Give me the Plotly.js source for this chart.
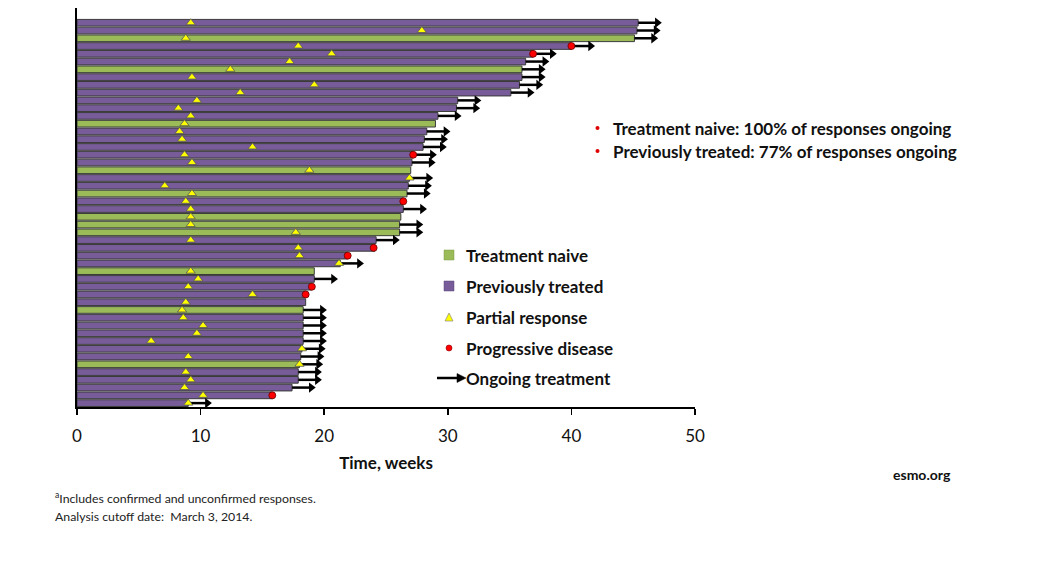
<!DOCTYPE html>
<html>
<head>
<meta charset="utf-8">
<script src="https://cdn.plot.ly/plotly-3.0.1.min.js"></script>
<style>
html,body{margin:0;padding:0;background:#fff;}
#chart{width:1056px;height:570px;}
</style>
</head>
<body>
<div id="chart"></div>
<script>
// One row per patient, top to bottom
const group = ['P','P','N','P','P','P','N','P','P','P',
               'P','P','P','N','P','P','P','P','P','N',
               'P','P','N','P','P','N','N','N','P','P',
               'P','P','N','P','P','P','P','N','P','P',
               'P','P','P','P','N','P','P','P','P','P'];
const duration = [45.4,45.3,45.1,40.0,36.9,36.3,36.0,36.0,35.8,35.1,
                  30.8,30.7,29.2,29.0,28.3,28.1,28.0,27.2,27.1,27.0,
                  26.9,26.8,26.7,26.4,26.4,26.2,26.1,26.1,24.2,24.1,
                  21.9,21.3,19.2,19.2,19.0,18.5,18.5,18.3,18.3,18.3,
                  18.3,18.3,18.2,18.1,18.0,17.9,17.9,17.4,15.8,9.0];
const partialResponse = [9.2,27.9,8.8,17.9,20.6,17.2,12.4,9.3,19.2,13.2,
                         9.7,8.2,9.2,8.7,8.3,8.5,14.2,8.7,9.3,18.8,
                         26.9,7.1,9.3,8.8,9.2,9.2,9.2,17.7,9.2,17.9,
                         18.0,21.2,9.2,9.8,9.0,14.2,8.8,8.5,8.6,10.2,
                         9.7,6.0,18.2,9.0,18.0,8.8,9.2,8.7,10.2,9.0];
const progression = [null,null,null,40.0,36.9,null,null,null,null,null,
                     null,null,null,null,null,null,null,27.2,null,null,
                     null,null,null,26.4,null,null,null,null,null,24.0,
                     21.9,null,null,null,19.0,18.5,null,null,null,null,
                     null,null,null,null,null,null,null,null,15.8,null];
const ongoing = [1,1,1,1,1,1,1,1,1,1,
                 1,1,1,0,1,1,1,1,1,0,
                 1,1,1,0,1,0,1,1,1,0,
                 0,1,0,1,0,0,0,1,1,1,
                 1,1,1,1,1,1,1,1,0,1];
const xTicks = [0,10,20,30,40,50];

const PURPLE = '#775C99', GREEN = '#9BBB59';
const rows = duration.map((d,i)=>i);

function barTrace(g, color, name){
  const idx = rows.filter(i=>group[i]===g);
  return {type:'bar', orientation:'h', name:name,
    x: idx.map(i=>duration[i]), y: idx, width:0.86,
    marker:{color:color, line:{color:'#3a3a3a', width:1}},
    hoverinfo:'x', showlegend:false};
}

const ARROW = 1.5;
const onIdx = rows.filter(i=>ongoing[i]);
const lx=[], ly=[];
onIdx.forEach(i=>{ lx.push(duration[i], duration[i]+ARROW, null); ly.push(i,i,null); });

const pdIdx = rows.filter(i=>progression[i]!==null);

const data = [
  barTrace('N', GREEN, 'Treatment naive'),
  barTrace('P', PURPLE, 'Previously treated'),
  {type:'scatter', mode:'lines', x:lx, y:ly, line:{color:'#000', width:2.5}, hoverinfo:'skip', showlegend:false},
  {type:'scatter', mode:'markers', x:onIdx.map(i=>duration[i]+ARROW+0.05), y:onIdx,
   marker:{symbol:'triangle-right', size:9, color:'#000'}, hoverinfo:'skip', showlegend:false},
  {type:'scatter', mode:'markers', name:'Partial response', x:partialResponse, y:rows,
   marker:{symbol:'triangle-up', size:8, color:'#FFFF00', line:{color:'#555', width:0.8}}, showlegend:false},
  {type:'scatter', mode:'markers', name:'Progressive disease', x:pdIdx.map(i=>progression[i]), y:pdIdx,
   marker:{symbol:'circle', size:7, color:'#FF0000', line:{color:'#600', width:0.8}}, showlegend:false}
];

// pixel helpers for layout decoration (plot area: x 77..695, y 8..407)
const L=77, R=695, T=8, B=407;
const px = v => (v-L)/(R-L);
const py = v => (B-v)/(B-T);

const FONT = 'Lato, "Open Sans", sans-serif';
const TXT = '#111';
const ann = [];
const shapes = [];
function text(t, x, y, size, bold, color, anchor){
  ann.push({xref:'paper', yref:'paper', x:px(x), y:py(y), xanchor:anchor||'left', yanchor:'middle',
    showarrow:false, text: bold?('<b>'+t+'</b>'):t, font:{family:FONT, size:size, color:color||TXT}});
}

// Notes (red bullets drawn as small dots)
shapes.push({type:'circle', xref:'paper', yref:'paper', x0:px(595.5), x1:px(599.5), y0:py(126), y1:py(130), fillcolor:'#E00000', line:{width:0}});
shapes.push({type:'circle', xref:'paper', yref:'paper', x0:px(595.5), x1:px(599.5), y0:py(149), y1:py(153), fillcolor:'#E00000', line:{width:0}});
text('Treatment naive: 100% of responses ongoing', 611, 128, 17, true);
text('Previously treated: 77% of responses ongoing', 611, 151, 17, true);

// Legend
const legY = [255,286,317,348,378];
const legT = ['Treatment naive','Previously treated','Partial response','Progressive disease','Ongoing treatment'];
legT.forEach((t,k)=>text(t, 464, legY[k], 17, true));
shapes.push({type:'rect', xref:'paper', yref:'paper', x0:px(444), x1:px(454), y0:py(250), y1:py(260), fillcolor:GREEN, line:{color:'#7a9a40', width:0.5}});
shapes.push({type:'rect', xref:'paper', yref:'paper', x0:px(444), x1:px(454), y0:py(281), y1:py(291), fillcolor:PURPLE, line:{color:'#5a4478', width:0.5}});
shapes.push({type:'path', xref:'paper', yref:'paper',
  path:`M ${px(445)} ${py(321)} L ${px(453)} ${py(321)} L ${px(449)} ${py(313)} Z`, fillcolor:'#FFFF00', line:{color:'#777', width:0.6}});
shapes.push({type:'circle', xref:'paper', yref:'paper', x0:px(446), x1:px(452), y0:py(345), y1:py(351), fillcolor:'#FF0000', line:{color:'#800', width:0.6}});
shapes.push({type:'line', xref:'paper', yref:'paper', x0:px(437), x1:px(459), y0:py(378), y1:py(378), line:{color:'#000', width:2.5}});
shapes.push({type:'path', xref:'paper', yref:'paper',
  path:`M ${px(457)} ${py(373.5)} L ${px(466)} ${py(378)} L ${px(457)} ${py(382.5)} Z`, fillcolor:'#000', line:{color:'#000', width:0.5}});

// Footer
text('esmo.org', 922, 474, 14, true, TXT, 'center');
text('<sup>a</sup>Includes confirmed and unconfirmed responses.', 53, 498, 12.3, false, '#222');
text('Analysis cutoff date:  March 3, 2014.', 53, 516, 12.3, false, '#222');

const layout = {
  width:1056, height:570,
  margin:{l:L, r:1056-R, t:T, b:570-B, pad:0},
  paper_bgcolor:'#fff', plot_bgcolor:'#fff',
  barmode:'overlay',
  showlegend:false,
  xaxis:{range:[0,50], tickvals:xTicks, ticktext:xTicks.map(String), ticks:'outside', ticklen:6, tickwidth:1.5, tickcolor:'#000',
    ticklabelstandoff:7,
    showline:true, linecolor:'#000', linewidth:1.5, showgrid:false, zeroline:false,
    tickfont:{family:FONT, size:17, color:TXT},
    title:{text:'<b>Time, weeks</b>', font:{family:FONT, size:17, color:TXT}, standoff:12}},
  yaxis:{range:[49.5,-1.9], showticklabels:false, ticks:'', showline:true, linecolor:'#000', linewidth:2,
    showgrid:false, zeroline:false},
  annotations:ann,
  shapes:shapes,
  font:{family:FONT}
};

Plotly.newPlot('chart', data, layout, {displayModeBar:false, staticPlot:true});
</script>
</body>
</html>
